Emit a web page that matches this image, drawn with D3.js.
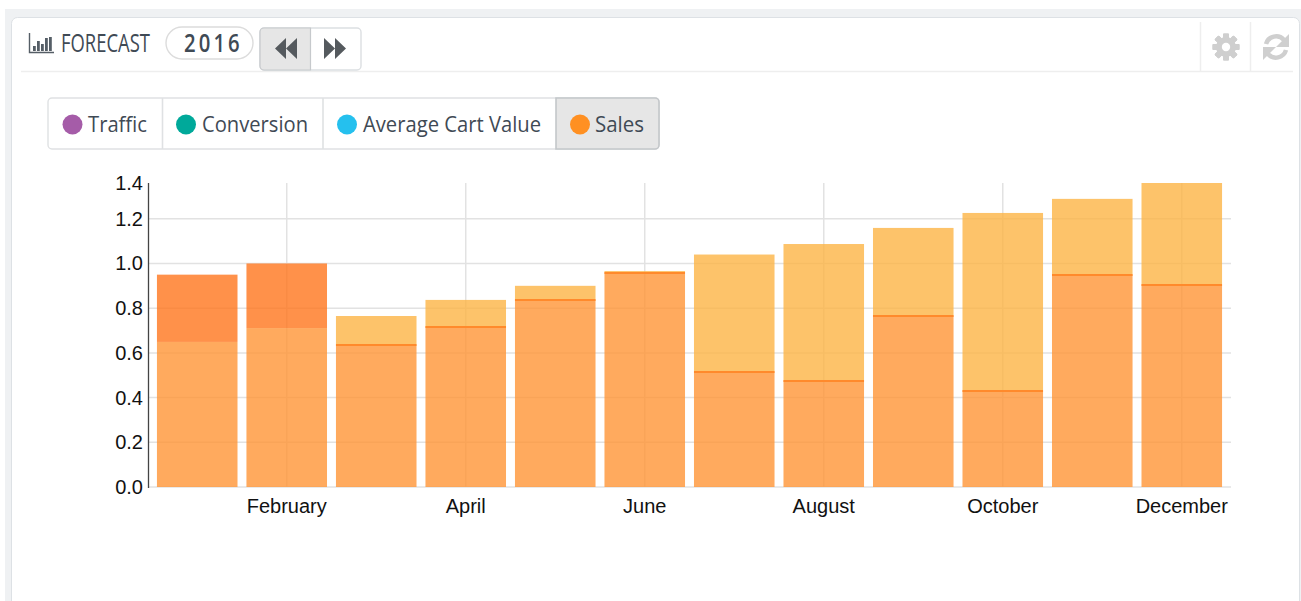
<!DOCTYPE html>
<html>
<head>
<meta charset="utf-8">
<script src="https://cdn.jsdelivr.net/npm/d3@7"></script>
<style>
    html, body { margin: 0; padding: 0; background: #fff; overflow: hidden; }
    svg { display: block; }
    .tick-label { font-family: "Liberation Sans", Arial, sans-serif; font-size: 20px; fill: #111; }
    .ui-label { font-family: "Open Sans", sans-serif; fill: #3f4a55; }
</style>
</head>
<body>
<div id="chart"></div>
<script>
// chart values
const months = ["January", "February", "March", "April", "May", "June", "July", "August", "September", "October", "November", "December"];
const salesValues = [0.95, 1.00, 0.635, 0.716, 0.837, 0.957, 0.515, 0.474, 0.765, 0.43, 0.948, 0.904];
const forecastValues = [0.649, 0.711, 0.765, 0.837, 0.90, 0.966, 1.04, 1.087, 1.159, 1.226, 1.289, 1.36];
// the top tick is the axis maximum, 1.36, which prints rounded as 1.4
const yMax = 1.36;
const yTicks = [0, 0.2, 0.4, 0.6, 0.8, 1.0, 1.2, yMax];
const gridTicks = [0, 0.2, 0.4, 0.6, 0.8, 1.0, 1.2];
const xTickMonths = ["February", "April", "June", "August", "October", "December"];
const legendItems = ["Traffic", "Conversion", "Average Cart Value", "Sales"];
const legendColors = ["#a55ca8", "#00a99a", "#25c0ee", "#ff9022"];

const svg = d3.select("#chart").append("svg")
    .attr("width", 1301)
    .attr("height", 601);

// panel frame
svg.append("rect").attr("x", 5).attr("y", 9).attr("width", 1296).attr("height", 592).attr("fill", "#eff1f3");
svg.append("rect").attr("x", 11.5).attr("y", 17.5).attr("width", 1288).attr("height", 620).attr("rx", 6)
    .attr("fill", "#fff").attr("stroke", "#dde1e5");

// header
let header = svg.append("g");
header.append("line").attr("x1", 21).attr("x2", 1293).attr("y1", 71.5).attr("y2", 71.5).attr("stroke", "#eeeeee").attr("stroke-width", 1.5);
header.append("line").attr("x1", 1200.5).attr("x2", 1200.5).attr("y1", 22).attr("y2", 71).attr("stroke", "#eeeeee").attr("stroke-width", 1.5);
header.append("line").attr("x1", 1250.5).attr("x2", 1250.5).attr("y1", 22).attr("y2", 71).attr("stroke", "#eeeeee").attr("stroke-width", 1.5);

// bar chart icon
header.append("path").attr("fill", "none").attr("stroke", "#555e66").attr("stroke-width", 1.4).attr("d", "M29.5 33V52.5H54");
[[33, 46, 5], [37, 41, 10], [41, 44, 7], [45, 38, 13], [49, 37, 14]].forEach(b => {
    header.append("rect").attr("x", b[0]).attr("y", b[1]).attr("width", 2.8).attr("height", b[2]).attr("fill", "#555e66");
});
header.append("text").attr("class", "ui-label").attr("x", 61).attr("y", 52).attr("font-size", 25).attr("font-weight", 500)
    .attr("textLength", 89).attr("lengthAdjust", "spacingAndGlyphs").attr("fill", "#4a5159").text("FORECAST");

// year pill
header.append("rect").attr("x", 166).attr("y", 27).attr("width", 87).attr("height", 32).attr("rx", 16)
    .attr("fill", "#fff").attr("stroke", "#dcdcdc").attr("stroke-width", 1.4);
header.append("text").attr("class", "ui-label").attr("x", 0).attr("y", 52)
    .attr("font-size", 26).attr("font-weight", 600).attr("letter-spacing", 4)
    .attr("fill", "#4a5159").attr("transform", "translate(184,0) scale(0.78,1)").text("2016");

// prev / next buttons
header.append("rect").attr("x", 260).attr("y", 28).attr("width", 101).attr("height", 42).attr("rx", 4)
    .attr("fill", "#fff").attr("stroke", "#dcdfe2").attr("stroke-width", 1.4);
header.append("path").attr("fill", "#e6e6e6").attr("stroke", "#c6c9cc").attr("stroke-width", 1.2)
    .attr("d", "M310.5 28H264a4 4 0 0 0-4 4V66a4 4 0 0 0 4 4H310.5Z");
header.append("path").attr("fill", "#555a5e").attr("d", "M286 38V59L275 48.5ZM297 38V59L286 48.5Z");
header.append("path").attr("fill", "#555a5e").attr("d", "M324 38V59L335 48.5ZM335 38V59L346 48.5Z");

// gear icon
const gear = header.append("g").attr("transform", "translate(1226,47)");
d3.range(8).forEach(i => {
    gear.append("rect").attr("x", -3).attr("y", -13.5).attr("width", 6).attr("height", 27).attr("rx", 1)
        .attr("fill", "#cfcfcf").attr("transform", "rotate(" + (i * 45) + ")");
});
gear.append("circle").attr("r", 10).attr("fill", "#cfcfcf");
gear.append("circle").attr("r", 4.2).attr("fill", "#fff");

// refresh icon
const refresh = header.append("g").attr("transform", "translate(1276,47)");
refresh.append("path").attr("fill", "none").attr("stroke", "#cfcfcf").attr("stroke-width", 4.5).attr("d", "M-10 -3A10.5 10.5 0 0 1 8 -7");
refresh.append("path").attr("fill", "none").attr("stroke", "#cfcfcf").attr("stroke-width", 4.5).attr("d", "M10 3A10.5 10.5 0 0 1 -8 7");
refresh.append("path").attr("fill", "#cfcfcf").attr("d", "M13 -13V0H0Z");
refresh.append("path").attr("fill", "#cfcfcf").attr("d", "M-13 13V0H0Z");

// legend buttons
const legendEdges = [162.5, 323];
const legendDots = [72.5, 186, 347, 580];
const legendText = [88, 202, 363, 595];
const legendWidths = [59, 106, 178, 49];
const legend = svg.append("g");
legend.append("rect").attr("x", 48).attr("y", 98).attr("width", 611).attr("height", 51).attr("rx", 4)
    .attr("fill", "#fff").attr("stroke", "#dfe1e3").attr("stroke-width", 1.4);
legend.append("path").attr("fill", "#e6e6e6").attr("stroke", "#c4c7ca").attr("stroke-width", 1.6)
    .attr("d", "M556 98H655a4 4 0 0 1 4 4V145a4 4 0 0 1-4 4H556Z");
legendEdges.forEach(x => {
    legend.append("line").attr("x1", x).attr("x2", x).attr("y1", 98).attr("y2", 149).attr("stroke", "#dfe1e3").attr("stroke-width", 1.6);
});
legendItems.forEach((name, i) => {
    legend.append("circle").attr("cx", legendDots[i]).attr("cy", 124.5).attr("r", 10).attr("fill", legendColors[i]);
    legend.append("text").attr("class", "ui-label").attr("x", legendText[i]).attr("y", 132)
        .attr("font-size", 21.5).attr("textLength", legendWidths[i]).attr("lengthAdjust", "spacingAndGlyphs").text(name);
});

// scales
const x = d3.scaleBand().domain(months).range([148, 1231]).paddingInner(0.1).paddingOuter(0.1);
const y = d3.scaleLinear().domain([0, yMax]).range([487, 183]);

// grid
const grid = svg.append("g");
grid.selectAll(".h").data(gridTicks).join("line")
    .attr("x1", 148).attr("x2", 1231)
    .attr("y1", d => y(d)).attr("y2", d => y(d))
    .attr("stroke", "#e2e2e2").attr("stroke-width", 1.5);
grid.selectAll(".v").data(xTickMonths).join("line")
    .attr("x1", d => x(d) + x.bandwidth() / 2).attr("x2", d => x(d) + x.bandwidth() / 2)
    .attr("y1", y(yMax)).attr("y2", y(0))
    .attr("stroke", "#e2e2e2").attr("stroke-width", 1.5);

// bars: the part both series share, then whichever one sticks out above it
const rows = months.map((m, i) => ({month: m, sales: salesValues[i], forecast: forecastValues[i]}));
const bars = svg.append("g");
bars.selectAll(".shared").data(rows).join("rect")
    .attr("x", d => x(d.month)).attr("width", x.bandwidth())
    .attr("y", d => y(Math.min(d.sales, d.forecast)))
    .attr("height", d => y(0) - y(Math.min(d.sales, d.forecast)))
    .attr("fill", "#ff9536").attr("fill-opacity", 0.8);
bars.selectAll(".top").data(rows).join("rect")
    .attr("x", d => x(d.month)).attr("width", x.bandwidth())
    .attr("y", d => y(Math.max(d.sales, d.forecast)))
    .attr("height", d => y(Math.min(d.sales, d.forecast)) - y(Math.max(d.sales, d.forecast)))
    .attr("fill", d => d.sales > d.forecast ? "#ff761d" : "#fcb445")
    .attr("fill-opacity", 0.8);
bars.selectAll(".salesline").data(rows.filter(d => d.sales < d.forecast)).join("line")
    .attr("x1", d => x(d.month)).attr("x2", d => x(d.month) + x.bandwidth())
    .attr("y1", d => y(d.sales)).attr("y2", d => y(d.sales))
    .attr("stroke", "#ff8a2c").attr("stroke-width", 2);

// axes
const axes = svg.append("g");
axes.append("line").attr("x1", 148.5).attr("x2", 148.5).attr("y1", y(yMax)).attr("y2", y(0) + 1)
    .attr("stroke", "#444").attr("stroke-width", 1.3);
axes.selectAll(".ylab").data(yTicks).join("text")
    .attr("class", "tick-label")
    .attr("x", 143).attr("y", d => y(d) + 7)
    .attr("text-anchor", "end")
    .text(d => d3.format(".1f")(d));
axes.selectAll(".xlab").data(xTickMonths).join("text")
    .attr("class", "tick-label")
    .attr("x", d => x(d) + x.bandwidth() / 2).attr("y", 513)
    .attr("text-anchor", "middle")
    .text(d => d);
</script>
</body>
</html>
